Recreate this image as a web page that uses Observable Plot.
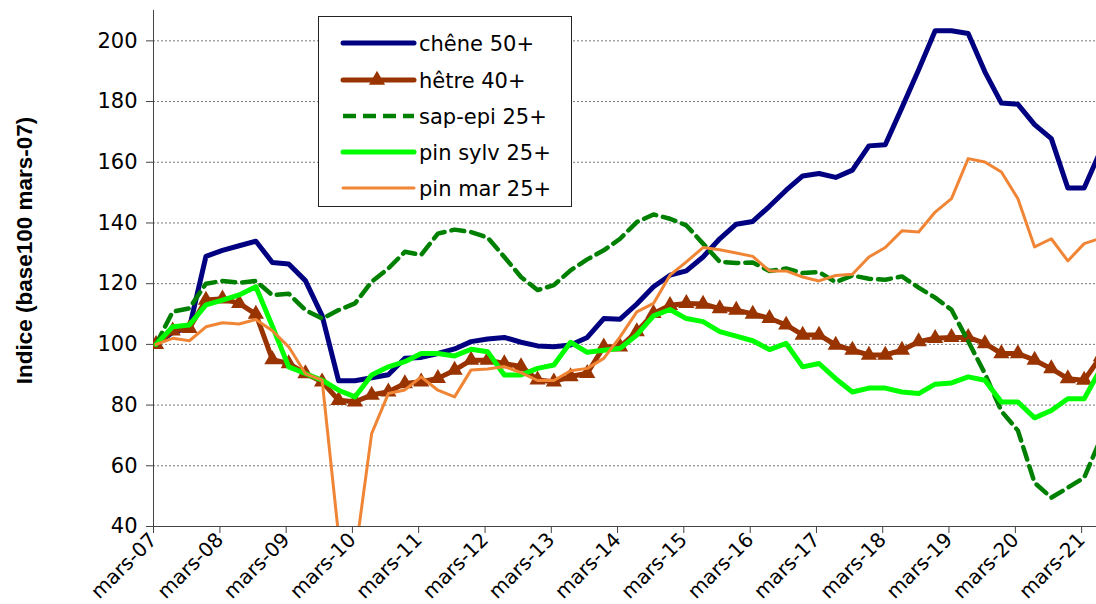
<!DOCTYPE html>
<html><head><meta charset="utf-8">
<script src="https://cdn.jsdelivr.net/npm/d3@7"></script>
<script src="https://cdn.jsdelivr.net/npm/@observablehq/plot@0.6"></script>
<style>
body{margin:0;background:#fff;}
#wrap{position:relative;width:1096px;height:604px;}
#legend{position:absolute;left:318px;top:16px;}
</style></head><body><div id="wrap"></div>
<script>
// Tick labels (one per March)
const tickLabels = ["mars-07","mars-08","mars-09","mars-10","mars-11","mars-12","mars-13","mars-14","mars-15","mars-16","mars-17","mars-18","mars-19","mars-20","mars-21"];
const yTicks = [40,60,80,100,120,140,160,180,200];
const gridTicks = [60,80,100,120,140,160,180,200];

// Quarterly index values, from mars-07
const chene = [100,104,105.5,129,131,132.5,134,127,126.5,121,109.5,88,88,89,90,95.4,95.7,97,98.5,100.9,101.8,102.3,100.7,99.5,99.2,99.8,102.3,108.5,108.3,113.3,119,122.8,124.2,128.8,134.8,139.6,140.5,145.5,150.8,155.5,156.3,155,157.4,165.4,165.8,178,190.5,203.3,203.3,202.4,189.8,179.5,179.1,172.4,167.8,151.5,151.5,164];
const hetre = [100,104.5,105.3,114.6,115,113.5,110,95,93.7,90.4,87.7,81.6,81.1,83.3,84.4,87.1,87.7,88.8,91.5,94.8,94.8,93.7,92.7,88.3,87.7,89.4,90.5,99.2,99.2,104.2,110.2,112.9,113.5,113.3,111.8,111.3,110,108.6,106.4,103.1,103.1,99.8,98.1,96.5,96.5,98.1,100.9,102,102.3,102.3,100.3,97,97,94.8,92,88.7,88.2,96];
const sapEpi = [100,110.8,111.9,120,120.9,120.3,120.9,116.2,116.7,111.3,108.5,111.3,113.5,120.6,125,130.5,129.5,136.5,137.8,137,135.2,128.8,122.2,117.9,119.5,124.4,128,131,134.8,140.3,142.8,141.4,139.2,133.2,127.2,126.8,127,124.2,125,123.5,123.8,120.5,122.7,121.6,121.3,122.4,118.7,115.4,111.4,101,90.4,78,71.6,54.4,49.5,52.8,56.1,69];
const pinSylv = [100,105.8,106.4,113,114.6,116.3,119,106,92.6,90.4,88.2,84.9,82.7,89.9,92.6,94.3,97,97,96.2,98.4,97.6,89.9,89.9,92.1,93.2,100.7,97.4,98.1,98.7,103.1,109.4,111.5,108.5,107.5,104.2,102.7,101.2,98.3,100.3,92.6,93.7,88.7,84.3,85.6,85.6,84.3,83.8,86.9,87.3,89.3,88.2,81,81,75.8,78.2,82.1,82.1,92];
const pinMar = [100,102,101.2,105.8,107.1,106.7,108.2,104.5,99.2,90.4,88.2,37,30,70.6,83.8,85,89.3,84.9,82.7,91.6,91.9,92.7,90.7,88.1,88.1,91.3,92.1,95.4,102.5,110.7,113.5,122.8,127.2,131.9,131.2,130.1,129,124.2,124.2,122.2,120.9,122.7,123.1,128.8,131.9,137.4,137,143.6,148,161.2,160.1,156.8,148,132.1,134.8,127.5,133.2,135];

const quarters = chene.map((_, i) => new Date(Date.UTC(2007, 2 + 3 * i, 15)));
const tickDates = tickLabels.map((_, k) => new Date(Date.UTC(2007 + k, 2, 1)));
const labelByTime = new Map(tickDates.map((d, k) => [+d, tickLabels[k]]));
const rows = vals => vals.map((v, i) => ({date: quarters[i], value: v}));

const series = [
  {name: "chêne 50+", color: "#000080", width: 5, dash: null, marker: false},
  {name: "hêtre 40+", color: "#993300", width: 5, dash: null, marker: true},
  {name: "sap-epi 25+", color: "#008000", width: 4.5, dash: "13,7", marker: false},
  {name: "pin sylv 25+", color: "#00FF00", width: 5, dash: null, marker: false},
  {name: "pin mar 25+", color: "#F08535", width: 3, dash: null, marker: false}
];
const values = [chene, hetre, sapEpi, pinSylv, pinMar];

const marks = [
  Plot.gridY(gridTicks, {stroke: "#777", strokeOpacity: 1, strokeDasharray: "2,2", strokeWidth: 1}),
  Plot.frame({anchor: "left", stroke: "#444"}),
  Plot.frame({anchor: "bottom", stroke: "#444"}),
  Plot.axisY(yTicks, {tickSize: 7, tickPadding: 9, fontSize: 21, stroke: "#444", label: null}),
  Plot.axisX(tickDates, {tickSize: 7, tickPadding: 3, tickRotate: -45, fontSize: 20, stroke: "#444",
    tickFormat: d => labelByTime.get(+d), label: null}),
  Plot.text(["Indice (base100 mars-07)"], {frameAnchor: "left", text: d => d, rotate: -90, dx: -129, dy: -18,
    textAnchor: "middle", lineAnchor: "middle",
    fontWeight: "bold", fontFamily: "Liberation Sans", fontSize: 22.5, fill: "#000"})
];
series.forEach((s, k) => {
  marks.push(Plot.line(rows(values[k]), {x: "date", y: "value", stroke: s.color, strokeWidth: s.width,
    strokeDasharray: s.dash, strokeLinejoin: "round", clip: true}));
  if (s.marker) marks.push(Plot.dot(rows(values[k]), {x: "date", y: "value", symbol: "triangle", r: 6,
    fill: s.color, stroke: "none", clip: true}));
});

const chart = Plot.plot({
  width: 1096, height: 604,
  marginLeft: 153, marginRight: 0, marginTop: 10, marginBottom: 78,
  style: {fontFamily: '"DejaVu Sans", sans-serif', color: "#000", background: "#fff", overflow: "visible"},
  x: {type: "utc", domain: [new Date(Date.UTC(2007, 2, 1)), new Date(Date.UTC(2021, 4, 22))]},
  y: {domain: [40, 210]},
  marks
});
const wrap = document.getElementById("wrap");
wrap.appendChild(chart);

// Legend box inside the plot area
const lw = 254, lh = 191;
const leg = d3.select(wrap).append("svg").attr("id", "legend").attr("width", lw).attr("height", lh)
  .style("font-family", '"DejaVu Sans", sans-serif');
leg.append("rect").attr("x", 0.5).attr("y", 0.5).attr("width", lw - 1).attr("height", lh - 1)
  .attr("fill", "#fff").attr("stroke", "#222");
const rowY = [27, 64, 100, 136, 172];
series.forEach((s, k) => {
  const g = leg.append("g").attr("transform", `translate(0,${rowY[k]})`);
  g.append("line").attr("x1", 25).attr("x2", 96).attr("y1", 0).attr("y2", 0)
    .attr("stroke", s.color).attr("stroke-width", s.width).attr("stroke-linecap", s.dash ? "butt" : "round")
    .attr("stroke-dasharray", s.dash);
  if (s.marker) g.append("path").attr("d", d3.symbol(d3.symbolTriangle, Math.PI * 36)()).attr("transform", "translate(59,0)")
    .attr("fill", s.color);
  g.append("text").attr("x", 101).attr("y", 0).attr("dy", "0.36em").attr("font-size", 21).attr("fill", "#000").text(s.name);
});
</script></body></html>
